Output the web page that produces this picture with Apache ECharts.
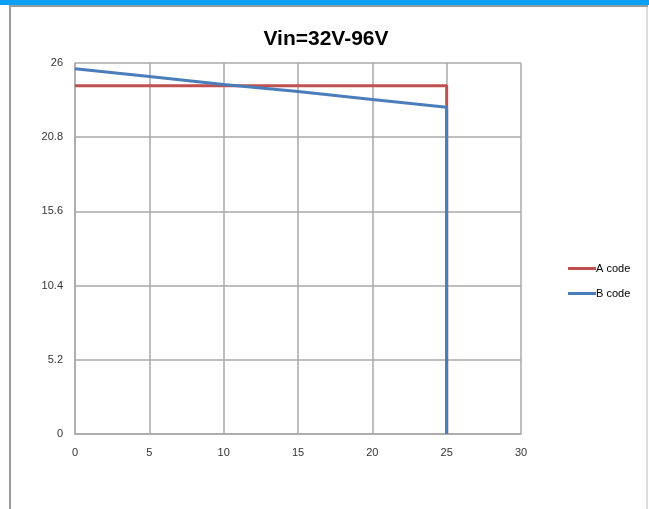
<!DOCTYPE html>
<html><head><meta charset="utf-8">
<script src="https://cdn.jsdelivr.net/npm/echarts@6/dist/echarts.min.js"></script>
<style>html,body{margin:0;padding:0;background:#fff}#c{width:649px;height:509px}</style>
</head><body><div id="c"></div>
<script>
var xTicks = [0, 5, 10, 15, 20, 25, 30];
var yTicks = [0, 5.2, 10.4, 15.6, 20.8, 26];
var seriesNames = ['A code', 'B code'];
var aCodeX = [0, 25, 25];
var aCodeY = [24.4, 24.4, 0];
var bCodeX = [0, 5, 10, 15, 20, 25, 25];
var bCodeY = [25.6, 25.05, 24.5, 24.0, 23.45, 22.9, 0];

function pairs(xs, ys){ return xs.map(function(x,i){ return [x, ys[i]]; }); }

var chart = echarts.init(document.getElementById('c'), null, {renderer:'canvas'});
var gridColor = '#a8a8a8';
var narrow = '"Liberation Sans Narrow", "Liberation Sans", Arial, sans-serif';
chart.setOption({
  animation: false,
  backgroundColor: '#fff',
  graphic: [
    {type:'rect', shape:{x:0,y:0,width:649,height:5}, style:{fill:'#0aa0f5'}, z:0},
    {type:'rect', shape:{x:9,y:5,width:639,height:2}, style:{fill:'#9a9a9a'}, z:0},
    {type:'rect', shape:{x:9,y:5,width:2,height:504}, style:{fill:'#9a9a9a'}, z:0},
    {type:'rect', shape:{x:646,y:7,width:2,height:502}, style:{fill:'#dcdcdc'}, z:0}
  ],
  title: {
    text: 'Vin=32V-96V', left: 321, top: 24, textAlign: 'center',
    textStyle: {fontFamily: narrow, fontWeight: 'bold', fontSize: 21, color: '#000'}
  },
  grid: {left: 75, right: 128, top: 63, bottom: 75, containLabel: false, show: false},
  legend: {
    orient: 'vertical', left: 563, top: 258, itemGap: 14,
    icon: 'rect', itemWidth: 28, itemHeight: 3,
    textStyle: {fontFamily: narrow, fontSize: 11, color: '#000', padding: [0,0,0,-5]},
    data: seriesNames
  },
  xAxis: {
    type: 'value', min: xTicks[0], max: xTicks[xTicks.length-1], interval: xTicks[1]-xTicks[0],
    axisLine: {show: true, lineStyle: {color: gridColor, width: 1.5}},
    axisTick: {show: false},
    axisLabel: {margin: 13, color: '#333', fontFamily: narrow, fontSize: 11},
    splitLine: {show: true, lineStyle: {color: gridColor, width: 1.5}}
  },
  yAxis: {
    type: 'value', min: yTicks[0], max: yTicks[yTicks.length-1], interval: yTicks[1]-yTicks[0],
    axisLine: {show: true, lineStyle: {color: gridColor, width: 1.5}},
    axisTick: {show: false},
    axisLabel: {margin: 12, color: '#333', fontFamily: narrow, fontSize: 11,
      formatter: function(v){ var best = yTicks.reduce(function(a,b){ return Math.abs(b-v)<Math.abs(a-v)?b:a; }); return String(best); }},
    splitLine: {show: true, lineStyle: {color: gridColor, width: 1.5}}
  },
  series: [
    {name: seriesNames[0], type: 'line', data: pairs(aCodeX, aCodeY), showSymbol: false, symbol: 'none',
     lineStyle: {color: '#c0504d', width: 3}, itemStyle: {color: '#c0504d'}, z: 2},
    {name: seriesNames[1], type: 'line', data: pairs(bCodeX, bCodeY), showSymbol: false, symbol: 'none',
     lineStyle: {color: '#4a7ebb', width: 3}, itemStyle: {color: '#4a7ebb'}, z: 3}
  ]
});
</script></body></html>
